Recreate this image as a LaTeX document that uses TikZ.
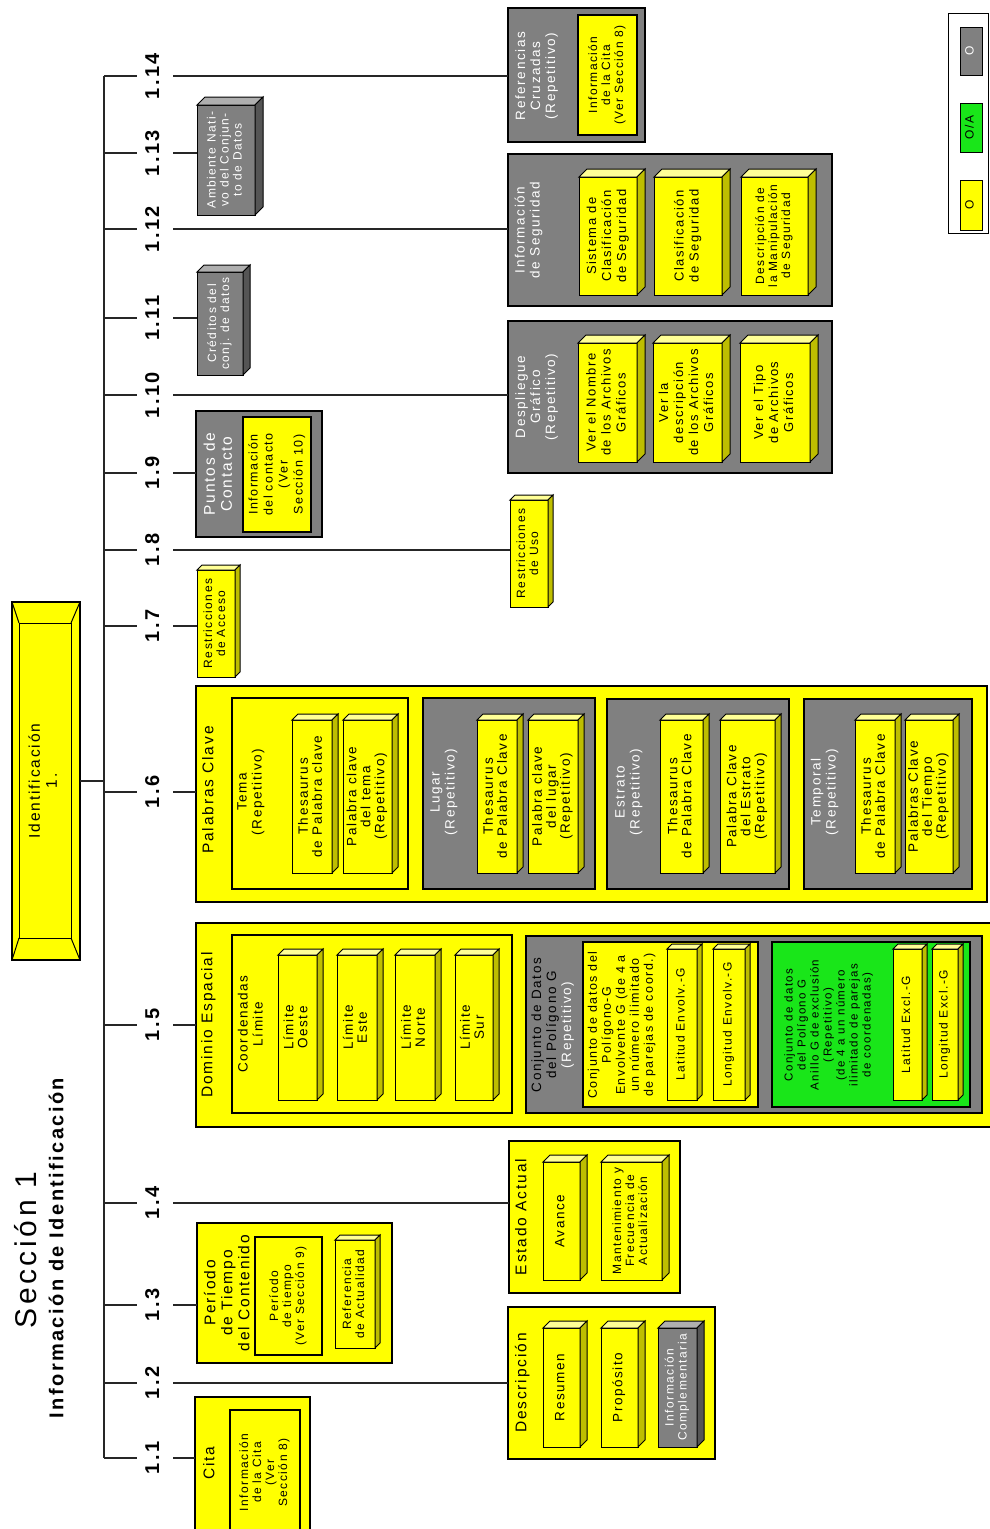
\documentclass[tikz,border=0pt]{standalone}
\usepackage{fontspec}
\setmainfont{Liberation Sans}[LetterSpace=12]
\usepackage{graphicx}

\definecolor{amar}{RGB}{255,255,0}
\definecolor{amarcla}{RGB}{255,255,150}
\definecolor{amarosc}{RGB}{190,190,0}
\definecolor{gris}{RGB}{128,128,128}
\definecolor{griscla}{RGB}{175,175,175}
\definecolor{grisosc}{RGB}{85,85,85}
\definecolor{verde}{RGB}{25,230,25}

% rotated multi-line text, zero size so the box keeps its own size
\newcommand{\vt}[1]{\makebox[0pt]{\raisebox{-.5\height}[0pt][0pt]{\rotatebox{90}{\begin{tabular}{@{}c@{}}#1\end{tabular}}}}}
\newcommand{\ftxt}{\fontsize{13.5}{14}\selectfont}
\newcommand{\fsml}{\fontsize{12}{13}\selectfont}
\newcommand{\fmid}{\fontsize{13.5}{15}\selectfont}
\newcommand{\flbl}{\fontsize{15.5}{17}\selectfont}

\begin{document}
\begin{tikzpicture}[x=1pt,y=-1pt,
  rama/.style={line width=1.3pt, black!85},
  marco/.style n args={4}{at={({(#1+#3)/2},{(#2+#4)/2})}, minimum width={(#3-#1)*1pt}, minimum height={(#4-#2)*1pt}},
  caja/.style={draw, line width=1.2pt, inner sep=0pt, outer sep=0pt},
  ybox/.style={caja, fill=amar, font=\ftxt},
  gbox/.style={caja, fill=gris},
  vbox/.style={caja, fill=verde},
  cubo/.style={caja, line width=1pt, fill=amar, font=\ftxt},
  gcubo/.style={caja, line width=1pt, fill=gris, text=white, font=\fsml},
  num/.style={minimum width=36pt, inner sep=0pt, font=\bfseries\fontsize{20}{21}\selectfont},
  lbl/.style={inner sep=0pt, font=\flbl},
  wlbl/.style={inner sep=0pt, font=\fmid, text=white},
]
\useasboundingbox (0,0) rectangle (990,1529);

% Titulo
\node[font=\fontsize{30}{32}\selectfont] (secc) at (30,1250) {\vt{Sección 1}};
\node[font=\bfseries\fontsize{20}{22}\selectfont] (subt) at (59,1248) {\vt{Información de Identificación}};

% Identificacion
\node[ybox, marco={12}{602}{80}{960}] (ident) {};
\filldraw[fill=amar, line width=1pt] (19,623) rectangle (71,938);
\draw[line width=1pt] (ident.north west) -- (19,623) (ident.north east) -- (71,623)
  (ident.south west) -- (19,938) (ident.south east) -- (71,938);
\node[lbl] (identtxt) at (45,781) {\vt{Identificación\\1.}};

% Spine and numbers
\foreach \i/\y in {1/1458, 2/1383, 3/1305, 4/1203, 5/1025, 6/792, 7/626,
                   8/550, 9/473, 10/395, 11/318, 12/229, 13/153, 14/76} {
  \coordinate (s\i) at (104,\y);
  \node[num] (n\i) at (155,\y) {\vt{1.\i}};
  \draw[rama] (s\i) -- (n\i.west);
}
\draw[rama] (s14) -- (s1);
\draw[rama] (ident.east) -- (ident.east -| s6);

% 1.1 Cita
\node[ybox, marco={195}{1397}{310}{1535}] (cita) {};
\node[lbl] (citatxt) at (211,1463) {\vt{Cita}};
\node[ybox, marco={230}{1410}{300}{1535}, font=\fsml] (citainf) {\vt{Información\\de la Cita\\(Ver\\Sección 8)}};

% 1.2 Descripcion
\node[ybox, marco={508}{1307}{715}{1459}] (desc) {};
\node[lbl] (desctxt) at (523,1383) {\vt{Descripción}};
\node[cubo, marco={543}{1328}{580}{1447}] (resumen) {\vt{Resumen}};
\node[cubo, marco={601}{1328}{638}{1447}] (proposito) {\vt{Propósito}};
\node[gcubo, marco={658}{1328}{697}{1447}] (infcomp) {\vt{Información\\Complementaria}};

% 1.3 Periodo de tiempo
\node[ybox, marco={197}{1223}{392}{1363}] (periodo) {};
\node[lbl] (periodotxt) at (229,1293) {\vt{Período\\de Tiempo\\del Contenido}};
\node[ybox, marco={255}{1237}{322}{1355}, font=\fsml] (periodoinf) {\vt{Período\\de tiempo\\(Ver Sección 9)}};
\node[cubo, marco={335}{1240}{375}{1348}, font=\fsml] (actualidad) {\vt{Referencia\\de Actualidad}};

% 1.4 Estado actual
\node[ybox, marco={509}{1141}{680}{1293}] (estado) {};
\node[lbl] (estadotxt) at (523,1217) {\vt{Estado Actual}};
\node[cubo, marco={543}{1162}{580}{1280}] (avance) {\vt{Avance}};
\node[cubo, marco={601}{1162}{662}{1280}, font=\fsml] (mant) {\vt{Mantenimiento y\\Frecuencia de\\Actualización}};

% 1.5 Dominio espacial
\node[ybox, marco={196}{923}{1000}{1127}] (dominio) {};
\node[lbl] (dominiotxt) at (209,1025) {\vt{Dominio Espacial}};
\node[ybox, marco={232}{935}{512}{1113}] (coord) {};
\node[lbl, font=\fmid] (coordtxt) at (252,1024) {\vt{Coordenadas\\Límite}};
\node[cubo, marco={278}{955}{317}{1100}] (oeste) {\vt{Límite\\Oeste}};
\node[cubo, marco={337}{955}{377}{1100}] (este) {\vt{Límite\\Este}};
\node[cubo, marco={395}{955}{435}{1100}] (norte) {\vt{Límite\\Norte}};
\node[cubo, marco={455}{955}{493}{1100}] (sur) {\vt{Límite\\Sur}};
\node[gbox, marco={526}{936}{982}{1113}] (polig) {};
\node[lbl, font=\fmid] (poligtxt) at (553,1025) {\vt{Conjunto de Datos\\del Polígono G\\\color{white}(Repetitivo)}};
\node[ybox, marco={583}{942}{758}{1107}] (envol) {};
\node[lbl, font=\fontsize{12.5}{14}\selectfont] (envoltxt) at (622,1025)
  {\vt{Conjunto de datos del\\Polígono-G\\Envolvente G (de 4 a\\un número ilimitado\\de parejas de coord.)}};
\node[cubo, marco={667}{949}{697}{1100}, font=\fsml] (latenv) {\vt{Latitud Envolv.-G}};
\node[cubo, marco={713}{949}{745}{1100}, font=\fsml] (lonenv) {\vt{Longitud Envolv.-G}};
\node[vbox, marco={772}{942}{970}{1107}] (excl) {};
\node[lbl, font=\fontsize{11.5}{13}\selectfont] (excltxt) at (829,1025)
  {\vt{Conjunto de datos\\del Polígono G\\Anillo G de exclusión\\(Repetitivo)\\(de 4 a un número\\ilimitado de parejas\\de coordenadas)}};
\node[cubo, marco={893}{949}{922}{1100}, font=\fsml] (latexc) {\vt{Latitud Excl.-G}};
\node[cubo, marco={932}{949}{958}{1100}, font=\fsml] (lonexc) {\vt{Longitud Excl.-G}};

% 1.6 Palabras clave
\node[ybox, marco={196}{686}{987}{902}] (palabras) {};
\node[lbl] (palabrastxt) at (210,790) {\vt{Palabras Clave}};
\node[ybox, marco={232}{698}{408}{889}] (tema) {};
\node[lbl, font=\fmid] (tematxt) at (251,792) {\vt{Tema\\(Repetitivo)}};
\node[cubo, marco={292}{720}{332}{873}] (tes1) {\vt{Thesaurus\\de Palabra clave}};
\node[cubo, marco={343}{720}{392}{873}] (pcl1) {\vt{Palabra clave\\del tema\\(Repetitivo)}};
\node[gbox, marco={423}{698}{595}{889}] (lugar) {};
\node[wlbl] (lugartxt) at (444,792) {\vt{Lugar\\(Repetitivo)}};
\node[cubo, marco={477}{720}{517}{873}] (tes2) {\vt{Thesaurus\\de Palabra Clave}};
\node[cubo, marco={528}{720}{578}{873}] (pcl2) {\vt{Palabra clave\\del lugar\\(Repetitivo)}};
\node[gbox, marco={607}{699}{789}{889}] (estrato) {};
\node[wlbl] (estratotxt) at (629,792) {\vt{Estrato\\(Repetitivo)}};
\node[cubo, marco={660}{720}{703}{873}] (tes3) {\vt{Thesaurus\\de Palabra Clave}};
\node[cubo, marco={720}{720}{775}{873}] (pcl3) {\vt{Palabra Clave\\del Estrato\\(Repetitivo)}};
\node[gbox, marco={804}{699}{972}{889}] (temporal) {};
\node[wlbl] (temporaltxt) at (825,792) {\vt{Temporal\\(Repetitivo)}};
\node[cubo, marco={855}{720}{895}{873}] (tes4) {\vt{Thesaurus\\de Palabra Clave}};
\node[cubo, marco={905}{720}{953}{873}] (pcl4) {\vt{Palabras Clave\\del Tiempo\\(Repetitivo)}};

% 1.7 and 1.8 Restricciones
\node[cubo, marco={197}{570}{235}{677}, font=\fsml] (acceso) {\vt{Restricciones\\de Acceso}};
\node[cubo, marco={510}{500}{548}{607}, font=\fsml] (uso) {\vt{Restricciones\\de Uso}};

% 1.9 Puntos de contacto
\node[gbox, marco={196}{411}{322}{537}] (puntos) {};
\node[wlbl, font=\flbl] (puntostxt) at (220,474) {\vt{Puntos de\\Contacto}};
\node[ybox, marco={243}{417}{311}{532}, font=\fontsize{12.5}{15}\selectfont] (puntosinf) {\vt{Información\\del contacto\\(Ver\\Sección 10)}};

% 1.10 Despliegue grafico
\node[gbox, marco={508}{321}{832}{473}] (despl) {};
\node[wlbl] (despltxt) at (537,397) {\vt{Despliegue\\Gráfico\\(Repetitivo)}};
\node[cubo, marco={578}{343}{637}{462}, font=\fontsize{13}{15}\selectfont] (nom) {\vt{Ver el Nombre\\de los Archivos\\Gráficos}};
\node[cubo, marco={653}{343}{722}{462}, font=\fontsize{13}{15}\selectfont] (descg) {\vt{Ver la\\descripción\\de los Archivos\\Gráficos}};
\node[cubo, marco={740}{343}{810}{462}, font=\fontsize{13}{15}\selectfont] (tipo) {\vt{Ver el Tipo\\de Archivos\\Gráficos}};

% 1.11 Creditos
\node[gcubo, marco={197}{272}{243}{375}] (cred) {\vt{Créditos del\\conj. de datos}};

% 1.12 Seguridad
\node[gbox, marco={508}{154}{832}{306}] (seg) {};
\node[wlbl] (segtxt) at (529,230) {\vt{Información\\de Seguridad}};
\node[cubo, marco={579}{177}{637}{295}, font=\fontsize{13}{15}\selectfont] (sist) {\vt{Sistema de\\Clasificación\\de Seguridad}};
\node[cubo, marco={654}{177}{722}{295}, font=\fontsize{13}{15}\selectfont] (clas) {\vt{Clasificación\\de Seguridad}};
\node[cubo, marco={741}{177}{808}{295}, font=\fsml] (manip) {\vt{Descripción de\\la Manipulación\\de Seguridad}};

% 1.13 Ambiente
\node[gcubo, marco={197}{105}{255}{215}] (amb) {\vt{Ambiente Nati-\\vo del Conjun-\\to de Datos}};

% 1.14 Referencias cruzadas
\node[gbox, marco={508}{8}{645}{142}] (refcr) {};
\node[wlbl] (refcrtxt) at (537,76) {\vt{Referencias\\Cruzadas\\(Repetitivo)}};
\node[ybox, marco={578}{15}{637}{135}, font=\fsml] (refcrinf) {\vt{Información\\de la Cita\\(Ver Sección 8)}};

% 3D faces
\foreach \n/\d in {resumen/7, proposito/7, actualidad/5, avance/7, mant/7,
    oeste/6, este/6, norte/6, sur/6, latenv/5, lonenv/5, latexc/5, lonexc/5,
    tes1/6, pcl1/6, tes2/6, pcl2/6, tes3/6, pcl3/6, tes4/6, pcl4/6,
    acceso/5, uso/5, nom/8, descg/8, tipo/8, sist/8, clas/8, manip/8} {
  \filldraw[fill=amarcla, line width=1pt] (\n.north west) -- ++(\d,-\d) -- ([shift={(\d,-\d)}]\n.north east) -- (\n.north east) -- cycle;
  \filldraw[fill=amarosc, line width=1pt] (\n.north east) -- ++(\d,-\d) -- ([shift={(\d,-\d)}]\n.south east) -- (\n.south east) -- cycle;
}
\foreach \n/\d in {infcomp/7, cred/7, amb/8} {
  \filldraw[fill=griscla, line width=1pt] (\n.north west) -- ++(\d,-\d) -- ([shift={(\d,-\d)}]\n.north east) -- (\n.north east) -- cycle;
  \filldraw[fill=grisosc, line width=1pt] (\n.north east) -- ++(\d,-\d) -- ([shift={(\d,-\d)}]\n.south east) -- (\n.south east) -- cycle;
}

% Branches
\foreach \i/\b in {1/cita, 2/desc, 3/periodo, 4/estado, 5/dominio, 6/palabras, 7/acceso,
                   8/uso, 9/puntos, 10/despl, 11/cred, 12/seg, 13/amb, 14/refcr}
  \draw[rama] (n\i.east) -- (n\i.east -| \b.west);

% Legend
\node[draw, line width=1pt, marco={948}{13}{988}{233}] (leyenda) {};
\node[gbox, line width=1pt, marco={960}{27}{982}{75}, text=white, font=\fsml] (leg1) {\vt{O}};
\node[vbox, line width=1pt, marco={960}{103}{982}{152}, font=\fsml] (leg2) {\vt{O/A}};
\node[ybox, line width=1pt, marco={960}{180}{982}{230}, font=\fsml] (leg3) {\vt{O}};

\end{tikzpicture}
\end{document}
